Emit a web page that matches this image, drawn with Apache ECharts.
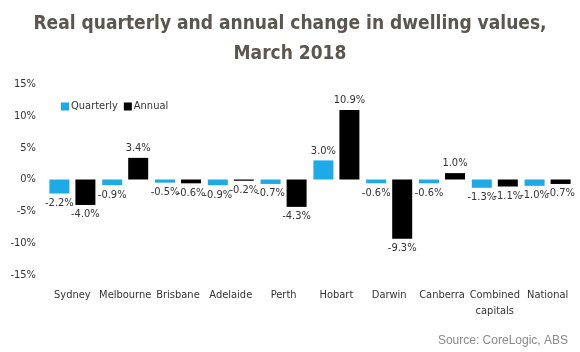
<!DOCTYPE html>
<html>
<head>
<meta charset="utf-8">
<script src="https://cdn.jsdelivr.net/npm/echarts@6/dist/echarts.min.js"></script>
<style>
  html, body { margin: 0; padding: 0; background: #fff; }
  #main { width: 580px; height: 352px; }
</style>
</head>
<body>
<div id="main"></div>
<script>
var cities = ['Sydney', 'Melbourne', 'Brisbane', 'Adelaide', 'Perth', 'Hobart', 'Darwin', 'Canberra', 'Combined\ncapitals', 'National'];
var quarterly = [-2.2, -0.9, -0.5, -0.9, -0.7, 3.0, -0.6, -0.6, -1.3, -1.0];
var annual = [-4.0, 3.4, -0.6, -0.2, -4.3, 10.9, -9.3, 1.0, -1.1, -0.7];

var chartDom = document.getElementById('main');
var myChart = echarts.init(chartDom);
var option;

var labelFont = '"DejaVu Sans Condensed", Lato, sans-serif';
var titleFont = '"DejaVu Sans Condensed", "Liberation Sans", sans-serif';

// 标签位置：正值在上，负值在下
function barData(arr) {
    return arr.map(function (v) {
        return {
            value: v,
            label: { position: v >= 0 ? 'top' : 'bottom' }
        };
    });
}

var titleStyle = {
    fontFamily: titleFont,
    fontSize: 19,
    fontWeight: 'bold',
    color: '#5b5650'
};

option = {
    title: [
        {
            text: 'Real quarterly and annual change in dwelling values,',
            left: 'center',
            top: 10,
            textStyle: titleStyle
        },
        {
            text: 'March 2018',
            left: 'center',
            top: 40,
            textStyle: titleStyle
        },
        {
            text: 'Source: CoreLogic, ABS',
            right: 7,
            top: 330,
            textStyle: {
                fontFamily: 'Liberation Sans',
                fontSize: 12,
                fontWeight: 'normal',
                color: '#8a8a8a'
            }
        }
    ],
    legend: {
        data: ['Quarterly', 'Annual'],
        left: 56,
        top: 96,
        itemWidth: 8,
        itemHeight: 8,
        itemGap: 6,
        icon: 'rect',
        textStyle: { fontFamily: labelFont, fontSize: 11, color: '#333', padding: [0, 0, 0, -3] }
    },
    grid: {
        left: 46,
        right: 6,
        top: 84,
        bottom: 77
    },
    xAxis: {
        type: 'category',
        data: cities,
        axisLine: { show: false },
        axisTick: { show: false },
        axisLabel: {
            interval: 0,
            fontFamily: labelFont,
            fontSize: 11,
            color: '#333',
            margin: 12,
            lineHeight: 16,
            verticalAlign: 'top'
        }
    },
    yAxis: {
        type: 'value',
        min: -15,
        max: 15,
        interval: 5,
        splitLine: { show: false },
        axisLine: { show: false },
        axisTick: { show: false },
        axisLabel: {
            fontFamily: labelFont,
            fontSize: 11,
            color: '#333',
            margin: 10,
            formatter: '{value}%'
        }
    },
    series: [
        {
            name: 'Quarterly',
            type: 'bar',
            data: barData(quarterly),
            barWidth: 20,
            barGap: '30%',
            itemStyle: { color: '#1eaae7' },
            label: {
                show: true,
                fontFamily: labelFont,
                fontSize: 11,
                color: '#333',
                distance: 4,
                formatter: function (p) { return p.value.toFixed(1) + '%'; }
            }
        },
        {
            name: 'Annual',
            type: 'bar',
            data: barData(annual),
            barWidth: 20,
            itemStyle: { color: '#000' },
            label: {
                show: true,
                fontFamily: labelFont,
                fontSize: 11,
                color: '#333',
                distance: 4,
                formatter: function (p) { return p.value.toFixed(1) + '%'; }
            }
        }
    ]
};

option && myChart.setOption(option);
</script>
</body>
</html>
